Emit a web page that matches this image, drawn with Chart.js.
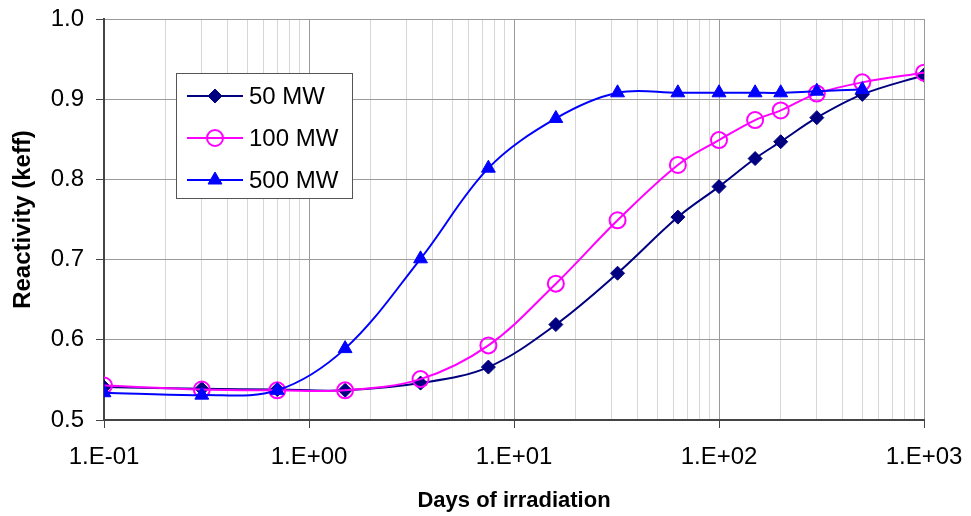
<!DOCTYPE html>
<html>
<head>
<meta charset="utf-8">
<title>Reactivity vs days of irradiation</title>
<script src="https://cdn.jsdelivr.net/npm/chart.js@4.4.1/dist/chart.umd.min.js"></script>
<style>
    html, body { margin: 0; padding: 0; background: #fff; }
    canvas { display: block; }
</style>
</head>
<body>
<canvas id="reactivityChart" width="971" height="516"></canvas>
<script>
// days of irradiation where each series was sampled
const days = [0.1, 0.3, 0.7, 1.5, 3.5, 7.5, 16, 32, 63, 100, 150, 200, 300, 500, 1000];

// keff
const mw50 = [0.541, 0.539, 0.538, 0.537, 0.546, 0.566, 0.619, 0.683, 0.753, 0.791, 0.826, 0.847, 0.877, 0.906, 0.930];
const mw100 = [0.543, 0.538, 0.537, 0.537, 0.551, 0.593, 0.670, 0.749, 0.818, 0.849, 0.874, 0.886, 0.907, 0.921, 0.933];
const mw500 = [0.534, 0.531, 0.537, 0.589, 0.701, 0.814, 0.876, 0.908, 0.908, 0.908, 0.908, 0.908, 0.910, 0.912];

const seriesNames = ['50 MW', '100 MW', '500 MW'];

const decades = [0.1, 1, 10, 100, 1000];
const decadeLabels = ['1.E-01', '1.E+00', '1.E+01', '1.E+02', '1.E+03'];
const minorSteps = [2, 3, 4, 5, 6, 7, 8, 9];

const yTicks = [0.5, 0.6, 0.7, 0.8, 0.9, 1.0];
const yTickLabels = ['0.5', '0.6', '0.7', '0.8', '0.9', '1.0'];

const FONT = '"Liberation Sans", Arial, Helvetica, sans-serif';

function toPoints(values) {
    return values.map((v, i) => ({ x: days[i], y: v }));
}

function decadeIndex(value) {
    return decades.findIndex(d => Math.abs(d - value) < d * 1e-6);
}

// grid positions: every decade plus the 2..9 lines in between
const xGridValues = [];
decades.forEach((d, i) => {
    xGridValues.push(d);
    if (i < decades.length - 1) {
        minorSteps.forEach(s => xGridValues.push(Math.round(d * s * 1000) / 1000));
    }
});

// legend drawn inside the plot, like the original
const insideLegend = {
    id: 'insideLegend',
    afterDraw(chart) {
        const ctx = chart.ctx;
        ctx.save();
        ctx.fillStyle = '#fff';
        ctx.fillRect(176.5, 73.5, 176, 125);
        ctx.strokeStyle = '#555';
        ctx.lineWidth = 1;
        ctx.strokeRect(176.5, 73.5, 176, 125);

        chart.data.datasets.forEach((ds, i) => {
            const y = 96 + i * 42;
            ctx.strokeStyle = ds.borderColor;
            ctx.lineWidth = ds.borderWidth;
            ctx.beginPath();
            ctx.moveTo(187, y);
            ctx.lineTo(243, y);
            ctx.stroke();

            ctx.fillStyle = ds.pointBackgroundColor;
            ctx.strokeStyle = ds.pointBorderColor;
            ctx.lineWidth = ds.pointBorderWidth;
            Chart.helpers.drawPoint(ctx, {
                pointStyle: ds.pointStyle,
                radius: ds.pointRadius,
                borderWidth: ds.pointBorderWidth,
                rotation: 0
            }, 215, y);

            ctx.fillStyle = '#000';
            ctx.font = '24px ' + FONT;
            ctx.textAlign = 'left';
            ctx.textBaseline = 'middle';
            ctx.fillText(ds.label, 249, y + 1);
        });
        ctx.restore();
    }
};

const ctx = document.getElementById('reactivityChart');

new Chart(ctx, {
    type: 'line',
    data: {
        datasets: [
            {
                label: seriesNames[0],
                data: toPoints(mw50),
                borderColor: '#000080',
                borderWidth: 2,
                pointStyle: 'rectRot',
                pointRadius: 7,
                pointBackgroundColor: '#000080',
                pointBorderColor: '#000080',
                pointBorderWidth: 1,
                tension: 0.35,
                order: 2
            },
            {
                label: seriesNames[1],
                data: toPoints(mw100),
                borderColor: '#ff00ff',
                borderWidth: 2,
                pointStyle: 'circle',
                pointRadius: 8,
                pointBackgroundColor: 'rgba(0,0,0,0)',
                pointBorderColor: '#ff00ff',
                pointBorderWidth: 2,
                tension: 0.35,
                order: 1
            },
            {
                label: seriesNames[2],
                data: toPoints(mw500),
                borderColor: '#0000ff',
                borderWidth: 2,
                pointStyle: 'triangle',
                pointRadius: 8,
                pointBackgroundColor: '#0000ff',
                pointBorderColor: '#0000ff',
                pointBorderWidth: 1,
                tension: 0.35,
                order: 0
            }
        ]
    },
    options: {
        responsive: false,
        animation: false,
        devicePixelRatio: 1,
        layout: {
            padding: { top: 19, right: 47, left: 0, bottom: 0 }
        },
        plugins: {
            legend: { display: false },
            tooltip: { enabled: false }
        },
        scales: {
            x: {
                type: 'logarithmic',
                min: 0.1,
                max: 1000,
                afterBuildTicks: (scale) => {
                    scale.ticks = xGridValues.map(v => ({ value: v }));
                },
                afterFit: (scale) => {
                    scale.height = 96;
                    // keep the plot edges where the layout padding puts them
                    scale.paddingLeft = 0;
                    scale.paddingRight = 0;
                },
                ticks: {
                    autoSkip: false,
                    maxRotation: 0,
                    padding: 15,
                    color: '#000',
                    font: { family: FONT, size: 24 },
                    callback: (value) => {
                        const k = decadeIndex(value);
                        return k >= 0 ? decadeLabels[k] : '';
                    }
                },
                grid: {
                    color: (c) => decadeIndex(c.tick.value) >= 0 ? '#9a9a9a' : '#d6d6d6',
                    tickColor: (c) => decadeIndex(c.tick.value) >= 0 ? '#444' : 'rgba(0,0,0,0)',
                    tickLength: 8,
                    lineWidth: 1
                },
                border: { color: '#444', width: 2 },
                title: {
                    display: true,
                    text: 'Days of irradiation',
                    color: '#000',
                    font: { family: FONT, size: 22, weight: 'bold' },
                    padding: { top: 0, bottom: 2 }
                }
            },
            y: {
                type: 'linear',
                min: 0.5,
                max: 1.0,
                afterBuildTicks: (scale) => {
                    scale.ticks = yTicks.map(v => ({ value: v }));
                },
                afterFit: (scale) => {
                    scale.width = 104;
                    scale.paddingTop = 0;
                    scale.paddingBottom = 0;
                },
                ticks: {
                    padding: 12,
                    color: '#000',
                    font: { family: FONT, size: 24 },
                    callback: (value, index) => yTickLabels[index]
                },
                grid: {
                    color: '#9a9a9a',
                    tickColor: '#444',
                    tickLength: 8,
                    lineWidth: 1
                },
                border: { color: '#444', width: 2 },
                title: {
                    display: true,
                    text: 'Reactivity (keff)',
                    color: '#000',
                    font: { family: FONT, size: 24, weight: 'bold' },
                    padding: { top: 9, bottom: 0 }
                }
            }
        }
    },
    plugins: [insideLegend]
});
</script>
</body>
</html>
